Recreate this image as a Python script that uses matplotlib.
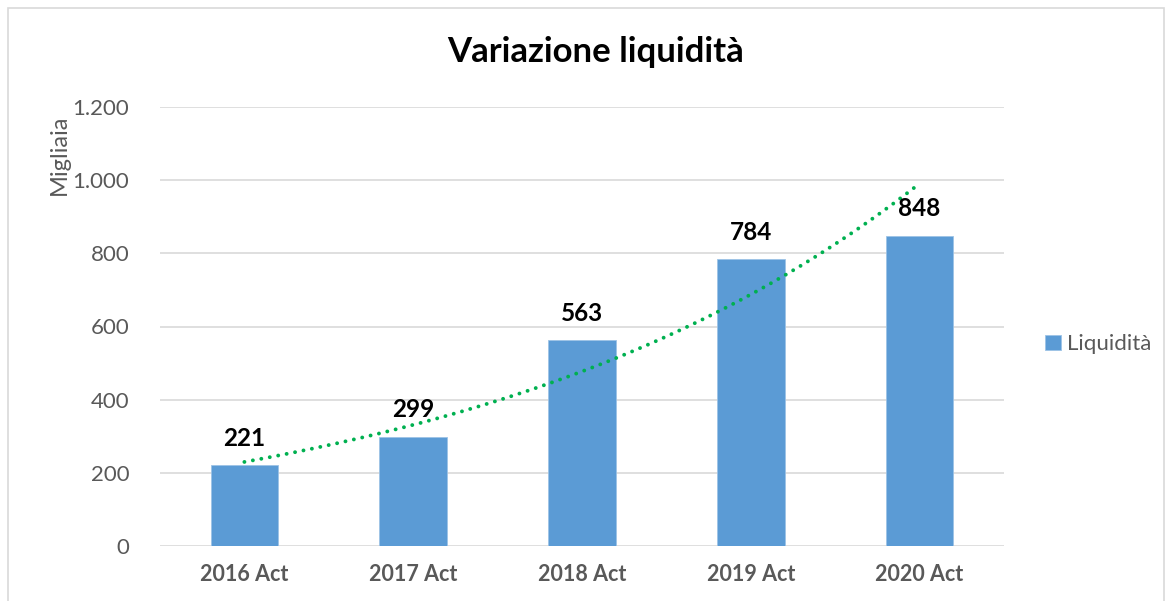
import numpy as np
import matplotlib.pyplot as plt
from matplotlib.patches import Rectangle

categories = ['2016 Act', '2017 Act', '2018 Act', '2019 Act', '2020 Act']
liquidita = [221, 299, 563, 784, 848]
yticks = [0, 200, 400, 600, 800, 1000, 1200]
ytick_labels = ['0', '200', '400', '600', '800', '1.000', '1.200']

plt.rcParams['font.family'] = ['Lato', 'DejaVu Sans']

fig = plt.figure(figsize=(11.74, 6.01), dpi=100)
ax = fig.add_axes([160 / 1174, 1 - 546 / 601, 844 / 1174, 439 / 601])

# outer chart border
fig.patches.append(Rectangle((8 / 1174, -0.01), 1156 / 1174, 1 - 8 / 601 + 0.01,
                             transform=fig.transFigure, fill=False,
                             edgecolor='#d9d9d9', linewidth=1.2))

x = np.arange(len(categories))
bars = ax.bar(x, liquidita, width=0.4, color='#5b9bd5', edgecolor='#9dc3e6',
              linewidth=0.6, label='Liquidità', zorder=2)

for xi, v in zip(x, liquidita):
    ax.text(xi, v + 42, str(v), ha='center', va='bottom', fontsize=17.5,
            fontweight='bold', color='black', zorder=4)

# exponential trendline fitted on the data (like Excel)
coef = np.polyfit(x, np.log(liquidita), 1)
xt = np.linspace(0, len(categories) - 1, 300)
yt = np.exp(np.polyval(coef, xt))
ax.plot(xt, yt, color='#00b050', linestyle=(0, (0.01, 2.2)), linewidth=2.8,
        dash_capstyle='round', zorder=3)

ax.set_xlim(-0.5, len(categories) - 0.5)
ax.set_ylim(0, 1200)
ax.set_yticks(yticks)
ax.set_yticklabels(ytick_labels)
ax.set_xticks(x)
ax.set_xticklabels(categories, fontweight='bold')
ax.tick_params(axis='y', length=0, pad=22, labelsize=16, labelcolor='#595959')
ax.tick_params(axis='x', length=0, pad=13, labelsize=15.5, labelcolor='#595959')
ax.grid(axis='y', color='#d9d9d9', linewidth=1.2, zorder=0)
ax.set_axisbelow(True)
for s in ax.spines.values():
    s.set_visible(False)

ax.set_ylabel('Migliaia', fontsize=17, color='#595959')
ax.yaxis.set_label_coords(-0.107, 0.89)

fig.text(596 / 1174, 1 - 52 / 601, 'Variazione liquidità', ha='center', va='center',
         fontsize=25, fontweight='bold', color='black')

ax.legend(loc='center left', bbox_to_anchor=(1.025, 0.459), frameon=False,
          fontsize=16, labelcolor='#595959', handlelength=0.7, handleheight=0.7,
          handletextpad=0.3)

fig.savefig('out.png', dpi=100)
